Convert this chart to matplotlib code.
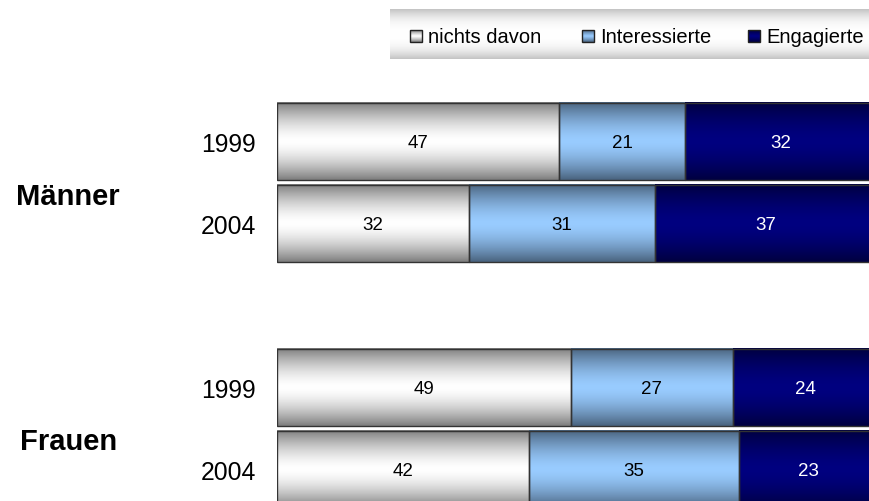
import numpy as np
import matplotlib
matplotlib.use("Agg")
import matplotlib.pyplot as plt
from matplotlib.patches import Rectangle

plt.rcParams['font.family'] = ['Liberation Sans', 'DejaVu Sans']

# ----------------------------------------------------
# Data
# ----------------------------------------------------
groups = ["Männer", "Frauen"]
years = ["1999", "2004"]
categories = ["nichts davon", "Interessierte", "Engagierte"]
maenner = [[47, 21, 32], [32, 31, 37]]   # rows: 1999, 2004
frauen = [[49, 27, 24], [42, 35, 23]]

# gradient colours per category: (edge colour, centre colour)
grad_colors = [("#7f7f7f", "#ffffff"), ("#4a6480", "#99ccff"), ("#000040", "#000080")]
text_colors = ["black", "black", "white"]


def hex2rgb(h):
    h = h.lstrip("#")
    return np.array([int(h[i:i + 2], 16) / 255 for i in (0, 2, 4)])


def gradient(edge, centre, n=64, p=1.6):
    t = np.linspace(0, 1, n)
    w = 1 - np.abs(2 * t - 1) ** p
    e, c = hex2rgb(edge), hex2rgb(centre)
    return (e[None, :] + w[:, None] * (c - e)[None, :])[:, None, :]


fig = plt.figure(figsize=(8.7, 5.02), dpi=100)
ax = fig.add_axes([277 / 870, 0, 600 / 870, 1])

# y positions: two rows per group, a gap between groups
ypos = [0, 1, 3, 4]
rows = maenner + frauen
bar_h = 0.94

for y, vals in zip(ypos, rows):
    left = 0
    for i, v in enumerate(vals):
        ax.imshow(gradient(*grad_colors[i]), extent=[left, left + v, y + bar_h / 2, y - bar_h / 2],
                  aspect="auto", zorder=2, interpolation="bilinear")
        ax.barh(y, v, left=left, height=bar_h, facecolor="none",
                edgecolor="#333333", linewidth=1, zorder=3)
        ax.text(left + v / 2, y + 0.01, str(v), ha="center", va="center",
                fontsize=13.5, color=text_colors[i], zorder=4)
        left += v

# year labels and group labels
for y, yr in zip(ypos, years * 2):
    ax.text(-3.5, y + 0.03, yr, ha="right", va="center", fontsize=17.8)
for y, g in zip([0.67, 3.65], groups):
    ax.text(-34.8, y, g, ha="center", va="center", fontsize=21, fontweight="bold")

ax.set_xlim(0, 100)
ax.set_ylim(4.384, -1.738)
ax.axis("off")

# ----------------------------------------------------
# Legend with grey gradient background
# ----------------------------------------------------
lax = fig.add_axes([390 / 870, (502 - 60) / 502, 480 / 870, 50 / 502])
lax.imshow(gradient("#c4c4c4", "#ffffff", p=2.5), extent=[390, 870, 60, 10],
           aspect="auto", interpolation="bilinear")
leg_x = [410, 582, 748]
for x, cat, (e, c) in zip(leg_x, categories, grad_colors):
    lax.imshow(gradient(e, c, p=1.2), extent=[x, x + 12, 43, 31], aspect="auto",
               interpolation="bilinear", zorder=2)
    lax.add_patch(Rectangle((x, 31), 12, 12, facecolor="none", edgecolor="#222222",
                            linewidth=1, zorder=3))
    lax.text(x + 18, 37.5, cat, ha="left", va="center", fontsize=14.5)
lax.set_xlim(390, 870)
lax.set_ylim(60, 10)
lax.axis("off")

fig.savefig("out.png", dpi=100)
